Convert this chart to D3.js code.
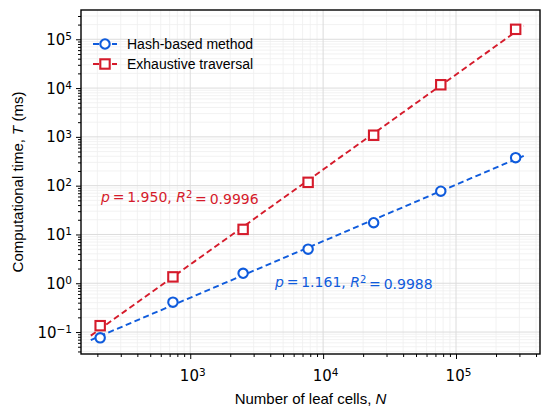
<!DOCTYPE html>
<html>
<head>
<meta charset="utf-8">
<script src="https://cdn.jsdelivr.net/npm/d3@7"></script>
<style>
  body { margin: 0; background: #fff; }
  text { font-family: "Liberation Sans", Arial, sans-serif; }
  .math { font-family: "DejaVu Sans", sans-serif; }
</style>
</head>
<body>
<script>
// data
const leafCells = [210, 741, 2500, 7710, 24000, 76800, 281000];
const hashTime = [0.076, 0.41, 1.6, 5.0, 17.4, 77, 375];
const exhaustiveTime = [0.135, 1.35, 12.7, 117, 1080, 11700, 160000];
const seriesNames = ["Hash-based method", "Exhaustive traversal"];
const fitLabels = [
  {p: "1.161", r2: "0.9988"},
  {p: "1.950", r2: "0.9996"}
];
const xTicks = [1e3, 1e4, 1e5];
const yTicks = [1e-1, 1e0, 1e1, 1e2, 1e3, 1e4, 1e5];

const width = 550, height = 414;
const margin = {top: 10, right: 10, bottom: 60, left: 81};

const blue = "#0f5bdc", red = "#d51b2b";

const svg = d3.select("body").append("svg")
    .attr("width", width)
    .attr("height", height);

const x = d3.scaleLog()
    .domain([Math.pow(10, 2.178), Math.pow(10, 5.632)])
    .range([margin.left, width - margin.right]);

const y = d3.scaleLog()
    .domain([Math.pow(10, -1.45), Math.pow(10, 5.6)])
    .range([height - margin.bottom, margin.top]);

// minor values in each decade
function minors(lo, hi) {
  let out = [];
  for (let e = Math.floor(Math.log10(lo)); e <= Math.ceil(Math.log10(hi)); e++) {
    for (let k = 2; k <= 9; k++) {
      const v = k * Math.pow(10, e);
      if (v >= lo && v <= hi) out.push(v);
    }
  }
  return out;
}
const xMinor = minors(...x.domain());
const yMinor = minors(...y.domain());

const grid = svg.append("g");
grid.selectAll(".xm").data(xMinor).join("line")
    .attr("x1", d => x(d)).attr("x2", d => x(d))
    .attr("y1", margin.top).attr("y2", height - margin.bottom)
    .attr("stroke", "#efefef").attr("stroke-width", 0.8);
grid.selectAll(".ym").data(yMinor).join("line")
    .attr("y1", d => y(d)).attr("y2", d => y(d))
    .attr("x1", margin.left).attr("x2", width - margin.right)
    .attr("stroke", "#efefef").attr("stroke-width", 0.8);
grid.selectAll(".xM").data(xTicks).join("line")
    .attr("x1", d => x(d)).attr("x2", d => x(d))
    .attr("y1", margin.top).attr("y2", height - margin.bottom)
    .attr("stroke", "#dcdcdc").attr("stroke-width", 1);
grid.selectAll(".yM").data(yTicks).join("line")
    .attr("y1", d => y(d)).attr("y2", d => y(d))
    .attr("x1", margin.left).attr("x2", width - margin.right)
    .attr("stroke", "#dcdcdc").attr("stroke-width", 1);

// axes
const xAxis = svg.append("g")
    .attr("transform", `translate(0,${height - margin.bottom})`)
    .call(d3.axisBottom(x).tickValues(xTicks).tickSize(5).tickFormat(""));
const xAxisMinor = svg.append("g")
    .attr("transform", `translate(0,${height - margin.bottom})`)
    .call(d3.axisBottom(x).tickValues(xMinor).tickSize(3).tickFormat(""));
const yAxis = svg.append("g")
    .attr("transform", `translate(${margin.left},0)`)
    .call(d3.axisLeft(y).tickValues(yTicks).tickSize(5).tickFormat(""));
const yAxisMinor = svg.append("g")
    .attr("transform", `translate(${margin.left},0)`)
    .call(d3.axisLeft(y).tickValues(yMinor).tickSize(3).tickFormat(""));
[xAxis, xAxisMinor, yAxis, yAxisMinor].forEach(g => {
  g.select(".domain").remove();
  g.selectAll("line").attr("stroke", "#000").attr("stroke-width", 1);
});

function powLabel(sel, v) {
  const e = Math.round(Math.log10(v));
  sel.append("tspan").text("10");
  sel.append("tspan").attr("dy", "-0.45em").attr("font-size", "10.5px")
     .text(e < 0 ? "\u2212" + (-e) : e);
}

xAxis.selectAll(".tick").each(function(d) {
  const t = d3.select(this).append("text")
      .attr("class", "math")
      .attr("y", 27).attr("x", 2)
      .attr("text-anchor", "middle")
      .attr("fill", "#000")
      .attr("font-size", "15px");
  powLabel(t, d);
});
yAxis.selectAll(".tick").each(function(d) {
  const t = d3.select(this).append("text")
      .attr("class", "math")
      .attr("x", -9).attr("y", 5)
      .attr("text-anchor", "end")
      .attr("fill", "#000")
      .attr("font-size", "15px");
  powLabel(t, d);
});

// frame
svg.append("rect")
    .attr("x", margin.left).attr("y", margin.top)
    .attr("width", width - margin.left - margin.right)
    .attr("height", height - margin.top - margin.bottom)
    .attr("fill", "none").attr("stroke", "#000").attr("stroke-width", 1.4);

// axis labels
const xl = svg.append("text")
    .attr("x", (margin.left + width - margin.right) / 2)
    .attr("y", 404)
    .attr("text-anchor", "middle")
    .attr("font-size", "15px");
xl.append("tspan").text("Number of leaf cells, ");
xl.append("tspan").attr("font-style", "italic").text("N");

const yl = svg.append("text")
    .attr("transform", `translate(23,${(margin.top + height - margin.bottom) / 2}) rotate(-90)`)
    .attr("text-anchor", "middle")
    .attr("font-size", "15px");
yl.append("tspan").text("Computational time, ");
yl.append("tspan").attr("font-style", "italic").text("T");
yl.append("tspan").text(" (ms)");

// power-law fit in log space
function fit(xs, ys) {
  const lx = xs.map(Math.log10), ly = ys.map(Math.log10);
  const mx = d3.mean(lx), my = d3.mean(ly);
  const p = d3.sum(lx, (v, i) => (v - mx) * (ly[i] - my)) / d3.sum(lx, v => (v - mx) * (v - mx));
  const b = my - p * mx;
  return n => Math.pow(10, b + p * Math.log10(n));
}

const series = [
  {name: seriesNames[0], values: hashTime, color: blue, shape: "circle"},
  {name: seriesNames[1], values: exhaustiveTime, color: red, shape: "square"}
];

const nLo = leafCells[0] * 0.85, nHi = leafCells[leafCells.length - 1] * 1.15;

function marker(g, shape, color) {
  if (shape === "circle") {
    g.append("circle").attr("r", 4.7)
      .attr("fill", "#fff").attr("stroke", color).attr("stroke-width", 2.1);
  } else {
    g.append("rect").attr("x", -4.7).attr("y", -4.7).attr("width", 9.4).attr("height", 9.4)
      .attr("fill", "#fff").attr("stroke", color).attr("stroke-width", 2.1);
  }
}

series.forEach(s => {
  const f = fit(leafCells, s.values);
  const pts = d3.range(0, 51).map(i => Math.pow(10, Math.log10(nLo) + i / 50 * (Math.log10(nHi) - Math.log10(nLo))));
  svg.append("path")
      .datum(pts)
      .attr("fill", "none")
      .attr("stroke", s.color)
      .attr("stroke-width", 1.9)
      .attr("stroke-dasharray", "6,3.5")
      .attr("d", d3.line().x(d => x(d)).y(d => y(f(d))));
  svg.append("g").selectAll("g")
      .data(s.values)
      .join("g")
      .attr("transform", (d, i) => `translate(${x(leafCells[i])},${y(d)})`)
      .each(function() { marker(d3.select(this), s.shape, s.color); });
});

// legend
const legend = svg.append("g").attr("transform", "translate(93,44)");
series.forEach((s, i) => {
  const row = legend.append("g").attr("transform", `translate(0,${i * 20})`);
  row.append("line").attr("x1", 0).attr("x2", 24)
      .attr("stroke", s.color).attr("stroke-width", 1.9).attr("stroke-dasharray", "6,3.5");
  marker(row.append("g").attr("transform", "translate(12,0)"), s.shape, s.color);
  row.append("text").attr("x", 34).attr("y", 5)
      .attr("font-size", "14px").text(s.name);
});

// fit annotations
function annot(xp, yp, lab, color) {
  const t = svg.append("text").attr("class", "math")
      .attr("x", xp).attr("y", yp)
      .attr("fill", color).attr("font-size", "14px");
  t.append("tspan").attr("font-style", "italic").text("p");
  t.append("tspan").text("\u2009=\u2009" + lab.p + ", ");
  t.append("tspan").attr("font-style", "italic").text("R");
  t.append("tspan").attr("dy", "-0.45em").attr("font-size", "10px").text("2");
  t.append("tspan").attr("dy", "0.45em").text("\u2009=\u2009" + lab.r2);
}
annot(101, 202, fitLabels[1], red);
annot(275, 287, fitLabels[0], blue);
</script>
</body>
</html>
